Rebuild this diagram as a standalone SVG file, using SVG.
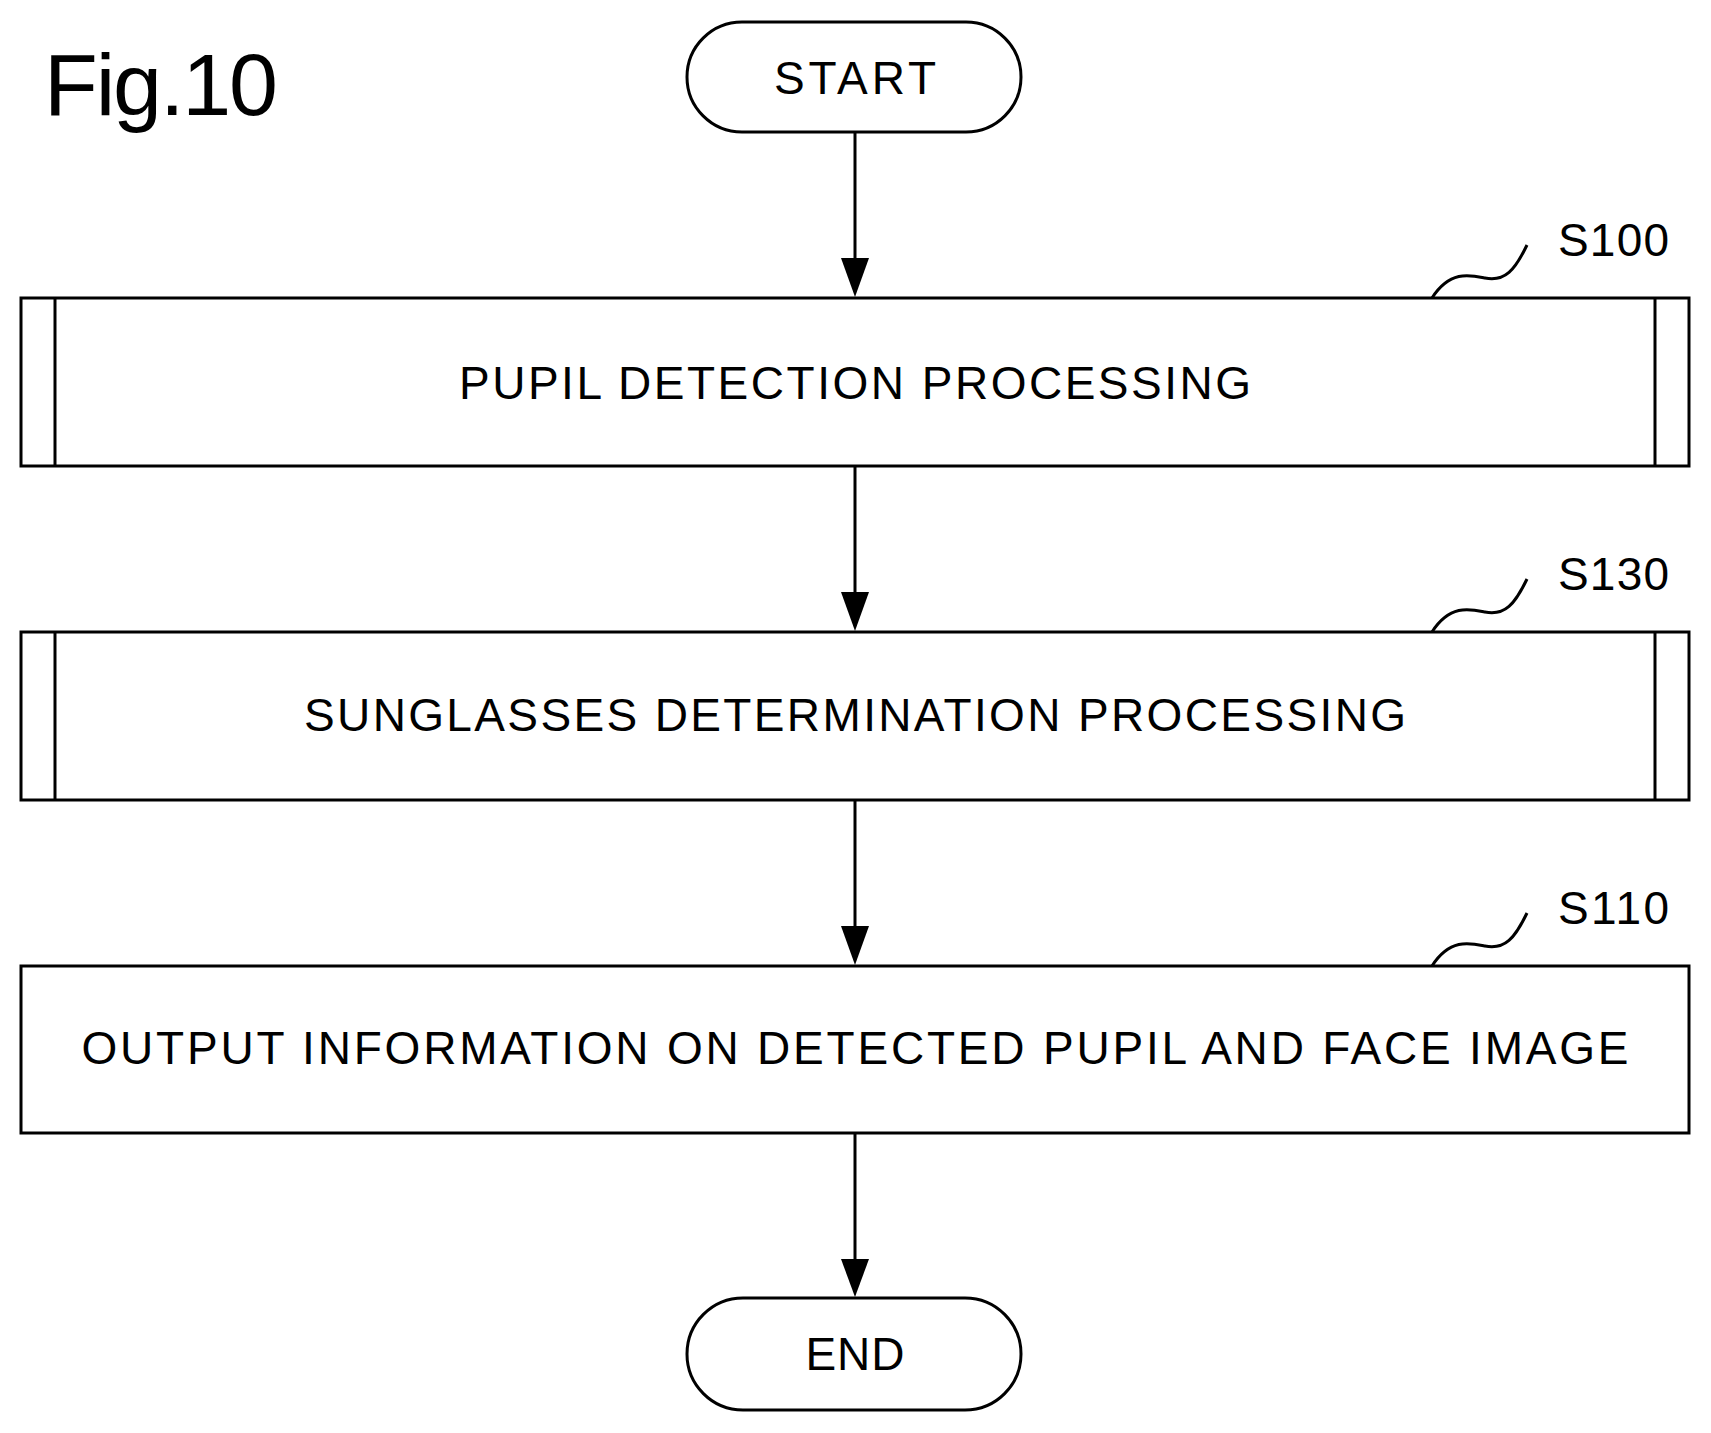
<svg xmlns="http://www.w3.org/2000/svg" width="1711" height="1433" viewBox="0 0 1711 1433">
<style>
.s{fill:#fff;stroke:#000;stroke-width:3}
.t{font-family:"Liberation Sans",Arial,sans-serif;font-size:46px;text-anchor:middle;fill:#000}
.l{font-family:"Liberation Sans",Arial,sans-serif;font-size:46px;fill:#000}
.c{fill:none;stroke:#000;stroke-width:3}
</style>
<defs><marker id="a" markerWidth="28" markerHeight="40" refX="14" refY="40" orient="auto-start-reverse" markerUnits="userSpaceOnUse" viewBox="0 0 28 40"><path d="M0,0 L28,0 L14,40 Z" transform="rotate(-90 14 20) translate(0 0)"/></marker></defs>
<rect width="1711" height="1433" fill="#fff"/>
<text x="44" y="115" font-family="Liberation Sans,Arial,sans-serif" font-size="88" textLength="234">Fig.10</text>
<g id="connectors">
<line class="c" x1="855" y1="132" x2="855" y2="258"/><path d="M841,258 L869,258 L855,297 Z"/>
<line class="c" x1="855" y1="466" x2="855" y2="592"/><path d="M841,592 L869,592 L855,631 Z"/>
<line class="c" x1="855" y1="800" x2="855" y2="926"/><path d="M841,926 L869,926 L855,965 Z"/>
<line class="c" x1="855" y1="1133" x2="855" y2="1259"/><path d="M841,1259 L869,1259 L855,1297 Z"/>
</g>
<g id="start"><rect class="s" x="687" y="22" width="334" height="110" rx="55"/><text class="t" x="855" y="94" textLength="162">START</text></g>
<g id="s100"><rect class="s" x="21" y="298" width="1668" height="168"/><line class="c" x1="55" y1="298" x2="55" y2="466"/><line class="c" x1="1655" y1="298" x2="1655" y2="466"/><text class="t" x="855" y="399" textLength="792">PUPIL DETECTION PROCESSING</text>
<path class="c" d="M1432,298 C1450,270 1470,275 1485,278 C1505,282 1515,270 1527,245"/><text class="l" x="1558" y="256" textLength="111">S100</text></g>
<g id="s130"><rect class="s" x="21" y="632" width="1668" height="168"/><line class="c" x1="55" y1="632" x2="55" y2="800"/><line class="c" x1="1655" y1="632" x2="1655" y2="800"/><text class="t" x="855" y="731" textLength="1102">SUNGLASSES DETERMINATION PROCESSING</text>
<path class="c" d="M1432,632 C1450,604 1470,609 1485,612 C1505,616 1515,604 1527,579"/><text class="l" x="1558" y="590" textLength="111">S130</text></g>
<g id="s110"><rect class="s" x="21" y="966" width="1668" height="167"/><text class="t" x="855" y="1064" textLength="1547">OUTPUT INFORMATION ON DETECTED PUPIL AND FACE IMAGE</text>
<path class="c" d="M1432,966 C1450,938 1470,943 1485,946 C1505,950 1515,938 1527,913"/><text class="l" x="1558" y="924" textLength="111">S110</text></g>
<g id="end"><rect class="s" x="687" y="1298" width="334" height="112" rx="56"/><text class="t" x="855" y="1370" textLength="99">END</text></g>
</svg>
